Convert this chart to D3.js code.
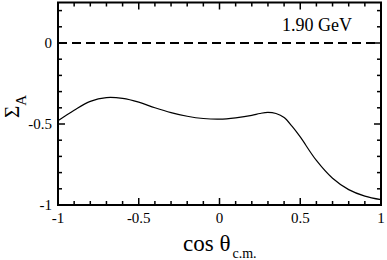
<!DOCTYPE html>
<html lang="en">
<head>
<meta charset="utf-8">
<title>Sigma A</title>
<script src="https://cdn.jsdelivr.net/npm/d3@7"></script>
<style>
  body { margin: 0; background: #fff; }
  text { font-family: "Liberation Serif", "Times New Roman", serif; fill: #000; }
</style>
</head>
<body>
<script>
// curve
var cosTheta = [-1.0, -0.9, -0.8, -0.7, -0.6, -0.5, -0.4, -0.3, -0.2, -0.1, 0.0, 0.1, 0.2, 0.25, 0.3, 0.35, 0.4, 0.45, 0.5, 0.6, 0.7, 0.8, 0.9, 1.0];
var sigmaA = [-0.48, -0.415, -0.36, -0.337, -0.342, -0.365, -0.400, -0.430, -0.452, -0.466, -0.470, -0.462, -0.447, -0.435, -0.428, -0.435, -0.460, -0.515, -0.580, -0.725, -0.835, -0.905, -0.945, -0.967];
var xTicks = [-1, -0.5, 0, 0.5, 1];
var yTicks = [-1, -0.5, 0];
var energyLabel = "1.90 GeV";

var W = 387, H = 260;
var m = {left: 58, right: 6, top: 2.5, bottom: 55};

var x = d3.scaleLinear().domain([-1, 1]).range([m.left, W - m.right]);
var y = d3.scaleLinear().domain([-1, 0.25]).range([H - m.bottom, m.top]);

var svg = d3.select("body").append("svg").attr("width", W).attr("height", H);

// minor ticks every 0.1, major every 0.5 (inside, all four sides)
var xMinor = d3.range(-10, 11).map(function(i) { return i / 10; });
var yMinor = d3.range(-10, 3).map(function(i) { return i / 10; });
function isMajor(v) { return Math.abs(v * 2 - Math.round(v * 2)) < 1e-6; }

var ticks = svg.append("g").attr("stroke", "#000").attr("stroke-width", 1.5);
xMinor.forEach(function(v) {
  var L = isMajor(v) ? 7 : 4;
  ticks.append("line").attr("x1", x(v)).attr("x2", x(v)).attr("y1", y(-1)).attr("y2", y(-1) - L);
  ticks.append("line").attr("x1", x(v)).attr("x2", x(v)).attr("y1", y(0.25)).attr("y2", y(0.25) + L);
});
yMinor.forEach(function(v) {
  var L = isMajor(v) ? 7 : 4;
  ticks.append("line").attr("y1", y(v)).attr("y2", y(v)).attr("x1", x(-1)).attr("x2", x(-1) + L);
  ticks.append("line").attr("y1", y(v)).attr("y2", y(v)).attr("x1", x(1)).attr("x2", x(1) - L);
});

// frame
svg.append("rect")
  .attr("x", x(-1)).attr("y", y(0.25))
  .attr("width", x(1) - x(-1)).attr("height", y(-1) - y(0.25))
  .attr("fill", "none").attr("stroke", "#000").attr("stroke-width", 2);

// tick labels
svg.selectAll(".xl").data(xTicks).enter().append("text")
  .attr("x", function(d) { return x(d); })
  .attr("y", y(-1) + 18)
  .attr("text-anchor", "middle")
  .attr("font-size", 15)
  .text(function(d) { return d; });

svg.selectAll(".yl").data(yTicks).enter().append("text")
  .attr("x", x(-1) - 6)
  .attr("y", function(d) { return y(d) + 5; })
  .attr("text-anchor", "end")
  .attr("font-size", 15)
  .text(function(d) { return d; });

// zero line
svg.append("line")
  .attr("x1", x(-1)).attr("x2", x(1)).attr("y1", y(0)).attr("y2", y(0))
  .attr("stroke", "#000").attr("stroke-width", 2.2).attr("stroke-dasharray", "9,5");

// curve
var pts = cosTheta.map(function(c, i) { return [c, sigmaA[i]]; });
var line = d3.line()
  .x(function(d) { return x(d[0]); })
  .y(function(d) { return y(d[1]); })
  .curve(d3.curveCatmullRom.alpha(0.5));
svg.append("path").datum(pts)
  .attr("d", line)
  .attr("fill", "none").attr("stroke", "#000").attr("stroke-width", 1.2);

// energy label
svg.append("text")
  .attr("x", 282).attr("y", 31)
  .attr("font-size", 18)
  .text(energyLabel);

// axis titles
var xt = svg.append("text")
  .attr("x", 183).attr("y", 251)
  .attr("font-size", 23);
xt.append("tspan").text("cos θ");
xt.append("tspan").attr("font-size", 14).attr("dy", 7).attr("dx", 2).text("c.m.");

var yt = svg.append("text")
  .attr("transform", "translate(19,118) rotate(-90)")
  .attr("font-size", 21);
yt.append("tspan").text("Σ");
yt.append("tspan").attr("font-size", 15).attr("dy", 7).text("A");
</script>
</body>
</html>
